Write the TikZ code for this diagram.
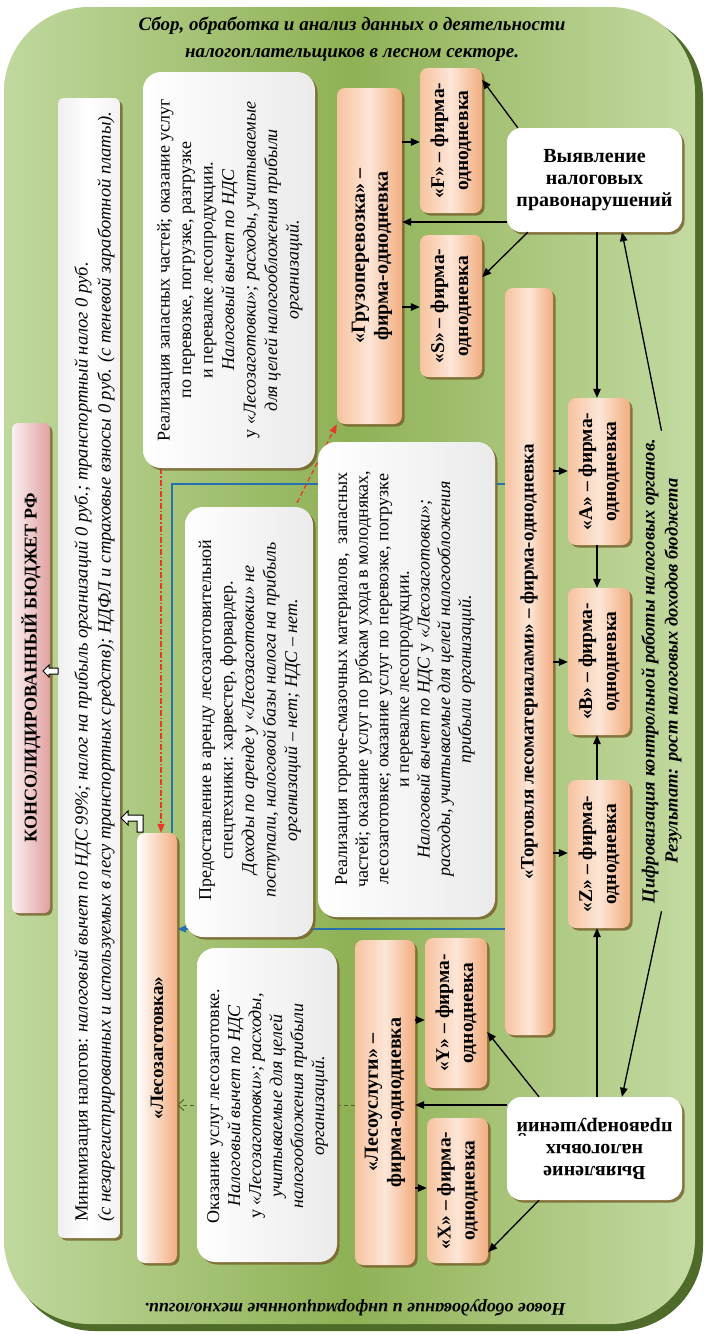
\documentclass[tikz,border=0pt]{standalone}
\usepackage{fontspec}
\setmainfont{Liberation Serif}
\usetikzlibrary{arrows.meta,shadows,calc}
\pgfdeclarelayer{bg}
\pgfdeclarelayer{conn}
\pgfsetlayers{bg,conn,main}
\definecolor{grL}{HTML}{C0D89E}
\definecolor{grM}{HTML}{8FB155}
\definecolor{grR}{HTML}{C4DAA2}
\definecolor{grD}{HTML}{4E6B2A}
\definecolor{orL}{HTML}{F7C3A0}
\definecolor{orM}{HTML}{FDE6D7}
\definecolor{orR}{HTML}{F2AD80}
\definecolor{shdc}{HTML}{7A6530}
\definecolor{pkL}{HTML}{FBF0F0}
\definecolor{pkR}{HTML}{E0A0A0}
\definecolor{redA}{HTML}{E8382A}
\definecolor{bluA}{HTML}{2470B0}
\definecolor{olA}{HTML}{4F6228}
\newcommand\mkbox[6]{\node[#2, minimum width={#5-#3}, minimum height={#6-#4}] (#1) at ({(#3+#5)/2},{(#4+#6)/2}) {};}
\begin{document}
\begin{tikzpicture}[x=1pt,y=-1pt,
  shd/.style={drop shadow={shadow xshift=2.5pt,shadow yshift=-2.5pt,fill=shdc,opacity=0.85}},
  firm/.style={shd, rounded corners=8pt, inner sep=0pt, left color=orL, right color=orR, middle color=orM},
  wbox/.style={shd, rounded corners=18pt, inner sep=0pt, left color=white, right color=black!8},
  vbox/.style={shd, rounded corners=14pt, inner sep=0pt, fill=white},
  ftxt/.style={rotate=90, align=center, inner sep=0pt, font=\fontsize{19.5}{24}\selectfont\bfseries},
  rtxt/.style={rotate=90, align=center, inner sep=0pt, font=\fontsize{18}{21.5}\selectfont},
  captxt/.style={inner sep=0pt, align=center, font=\fontsize{18.5}{23}\selectfont\bfseries\itshape},
  arr/.style={line width=1.3pt, -{Triangle[length=9pt,width=7.5pt]}},
  bluel/.style={line width=1.2pt, bluA},
  reddd/.style={line width=1.2pt, redA, dash pattern=on 6pt off 2pt on 1.5pt off 2pt, -{Triangle[length=9pt,width=7pt]}},
  redd/.style={line width=1.2pt, redA, dash pattern=on 5pt off 3pt, -{Triangle[length=9pt,width=7pt]}},
  grdash/.style={line width=1pt, olA, dash pattern=on 4pt off 3pt, -{Straight Barb[length=6pt,width=11pt]}},
  hollow/.style={fill=white, draw=black, line width=1pt, line join=miter}
]
\useasboundingbox (0,0) rectangle (704,1334);
\begin{pgfonlayer}{bg}
\fill[grD, rounded corners=85pt] (10,13) rectangle (703,1331);
\path[rounded corners=85pt, left color=grL, right color=grR, middle color=grM] (4,7) rectangle (695,1324);
\end{pgfonlayer}

% boxes
\mkbox{budget}{shd, rounded corners=6pt, inner sep=0pt, left color=pkL, right color=pkR}{12}{423}{50}{913}
\mkbox{mini}{shd, rounded corners=6pt, inner sep=0pt, left color=black!6, right color=black!5, middle color=white}{58}{98}{120}{1238}
\mkbox{lesz}{shd, rounded corners=8pt, inner sep=0pt, left color=white, right color=orR}{137}{833}{177}{1263}
\mkbox{reala}{wbox}{143}{72}{315}{468}
\mkbox{predo}{wbox}{185}{507}{313}{937}
\mkbox{gsm}{wbox}{318}{442}{495}{917}
\mkbox{okaz}{wbox}{197}{948}{337}{1262}
\mkbox{gruz}{firm}{337}{88}{402}{424}
\mkbox{F}{firm}{420}{68}{482}{213}
\mkbox{S}{firm}{420}{235}{482}{377}
\mkbox{vtop}{vbox}{507}{128}{682}{232}
\mkbox{torg}{firm}{505}{288}{553}{1035}
\mkbox{A}{firm}{568}{398}{630}{545}
\mkbox{B}{firm}{568}{588}{630}{735}
\mkbox{Z}{firm}{568}{780}{630}{928}
\mkbox{lesu}{firm}{355}{940}{415}{1265}
\mkbox{Y}{firm}{425}{938}{487}{1088}
\mkbox{X}{firm}{427}{1118}{488}{1263}
\mkbox{vbot}{vbox}{507}{1097}{682}{1200}

% texts
\node[captxt, font=\fontsize{19}{27}\selectfont\bfseries\itshape] (title) at (352,39) {Сбор, обработка и анализ данных о деятельности\\налогоплательщиков в лесном секторе.};
\node[captxt, rotate=180, font=\fontsize{18}{22}\selectfont\bfseries\itshape] (bottomcap) at (355,1308) {Новое оборудование и информационные технологии.};
\node[captxt, rotate=90] (cifr) at (661.5,671) {Цифровизация контрольной работы налоговых органов.\\Результат: рост налоговых доходов бюджета};

\node[rotate=90, inner sep=0pt, font=\fontsize{18}{22}\selectfont\bfseries] (tbud) at (budget.center) {КОНСОЛИДИРОВАННЫЙ БЮДЖЕТ РФ};
\node[rotate=90, inner sep=0pt, align=left, anchor=west, font=\fontsize{18.5}{23}\selectfont] (tmini) at (94.5,1222) {Минимизация налогов: \textit{налоговый вычет по НДС 99\%; налог на прибыль организаций 0 руб.; транспортный налог 0 руб.}\\\textit{(с незарегистрированных и используемых в лесу транспортных средств); НДФЛ и страховые взносы 0 руб. (с теневой заработной платы).}};
\node[ftxt, font=\fontsize{19}{24}\selectfont\bfseries] (tles) at (lesz.center) {«Лесозаготовка»};

\node[rtxt] (ta) at (230,270) {Реализация запасных частей; оказание услуг\\по перевозке, погрузке, разгрузке\\и перевалке лесопродукции.\\\textit{Налоговый вычет по НДС}\\у \textit{«Лесозаготовки»; расходы, учитываемые}\\\textit{для целей налогообложения прибыли}\\\textit{организаций.}};
\node[rtxt] (tb) at (250,720) {Предоставление в аренду лесозаготовительной\\спецтехники: харвестер, форвардер.\\\textit{Доходы по аренде у «Лесозаготовки» не}\\\textit{поступали, налоговой базы налога на прибыль}\\\textit{организаций – нет; НДС – нет.}};
\node[rtxt, font=\fontsize{18}{20.6}\selectfont] (tc) at (405,679) {Реализация горюче-смазочных материалов,\ \ запасных\\частей; оказание услуг по рубкам ухода в молодняках,\\лесозаготовке; оказание услуг по перевозке, погрузке\\и перевалке лесопродукции.\\\textit{Налоговый вычет по НДС} у \textit{«Лесозаготовки»;}\\\textit{расходы, учитываемые для целей налогообложения}\\\textit{прибыли организаций.}};
\node[rtxt, font=\fontsize{18}{21}\selectfont] (td) at (267.5,1106) {Оказание услуг лесозаготовке.\\\textit{Налоговый вычет по НДС}\\у \textit{«Лесозаготовки»; расходы,}\\\textit{учитываемые для целей}\\\textit{налогообложения прибыли}\\\textit{организаций.}};

\node[ftxt, font=\fontsize{20}{23}\selectfont\bfseries] (tgruz) at (372,256) {«Грузоперевозка» –\\фирма-однодневка};
\node[ftxt] (tF) at (F.center) {«F» – фирма-\\однодневка};
\node[ftxt] (tS) at (S.center) {«S» – фирма-\\однодневка};
\node[ftxt] (tA) at (A.center) {«A» – фирма-\\однодневка};
\node[ftxt] (tB) at (B.center) {«B» – фирма-\\однодневка};
\node[ftxt] (tZ) at (Z.center) {«Z» – фирма-\\однодневка};
\node[ftxt] (tY) at (Y.center) {«Y» – фирма-\\однодневка};
\node[ftxt] (tX) at (X.center) {«X» – фирма-\\однодневка};
\node[ftxt, font=\fontsize{19}{23}\selectfont\bfseries] (ttorg) at (torg.center) {«Торговля лесоматериалами» – фирма-однодневка};
\node[ftxt, font=\fontsize{20}{23}\selectfont\bfseries] (tlesu) at (lesu.center) {«Лесоуслуги» –\\фирма-однодневка};
\node[inner sep=0pt, align=center, font=\fontsize{20}{22}\selectfont\bfseries] (tvtop) at (vtop.center) {Выявление\\налоговых\\правонарушений};
\node[rotate=180, inner sep=0pt, align=center, font=\fontsize{20}{22}\selectfont\bfseries] (tvbot) at (vbot.center) {Выявление\\налоговых\\правонарушений};

% connectors behind boxes
\begin{pgfonlayer}{conn}
\draw[bluel] (torg.west |- 0,484) -- (172,484) -- (172,0 |- lesz.north);
\draw[bluel, -{Triangle[length=9pt,width=7pt]}] (torg.west |- 0,929) -- (lesz.east |- 0,929);
\draw[reddd] (161,0 |- reala.south) -- (161,0 |- lesz.north);
\draw[redd] ([xshift=48pt,yshift=4pt]predo.north) -- (gruz.south west);
\draw[grdash] (lesu.west |- 0,1105) -- (lesz.east |- 0,1105);
\end{pgfonlayer}

% black arrows
\draw[arr] ([xshift=11pt]vtop.north west) -- ([yshift=-12pt]F.north east);
\draw[arr] (vtop.west |- 0,222) -- (gruz.east |- 0,222);
\draw[arr] ([xshift=21pt]vtop.south west) -- (S.east |- 0,277);
\draw[arr] (597,0 |- vtop.south) -- (597,0 |- A.north);
\draw[arr] ([yshift=8pt]cifr.east) -- (622,0 |- vtop.south);
\draw[arr] ([yshift=-8pt]cifr.west) -- (622,0 |- vbot.north);
\draw[arr] (597,0 |- vbot.north) -- (597,0 |- Z.south);
\draw[arr] (539,0 |- vbot.north) -- (Y.east |- 0,1032);
\draw[arr] (vbot.west |- 0,1105) -- (lesu.east |- 0,1105);
\draw[arr] (539,0 |- vbot.south) -- (X.east |- 0,1252);
\draw[arr] (gruz.east |- 0,142) -- (F.west |- 0,142);
\draw[arr] (gruz.east |- 0,307) -- (S.west |- 0,307);
\draw[arr] (torg.east |- 0,471) -- (A.west |- 0,471);
\draw[arr] (torg.east |- 0,662) -- (B.west |- 0,662);
\draw[arr] (torg.east |- 0,853) -- (Z.west |- 0,853);
\draw[arr] (597,0 |- A.south) -- (597,0 |- B.north);
\draw[arr] (597,0 |- Z.north) -- (597,0 |- B.south);
\draw[arr] (lesu.east |- 0,1020) -- (Y.west |- 0,1020);
\draw[arr] (lesu.east |- 0,1188) -- (X.west |- 0,1188);

% hollow block arrows
\draw[hollow] (43,671) -- (49,665) -- (49,668) -- (58,668) -- (58,674) -- (49,674) -- (49,677) -- cycle;
\draw[hollow] (121,818) -- (128,811) -- (128,815) -- (143,815) -- (143,832) -- (137,832) -- (137,821) -- (128,821) -- (128,825) -- cycle;
\end{tikzpicture}
\end{document}
